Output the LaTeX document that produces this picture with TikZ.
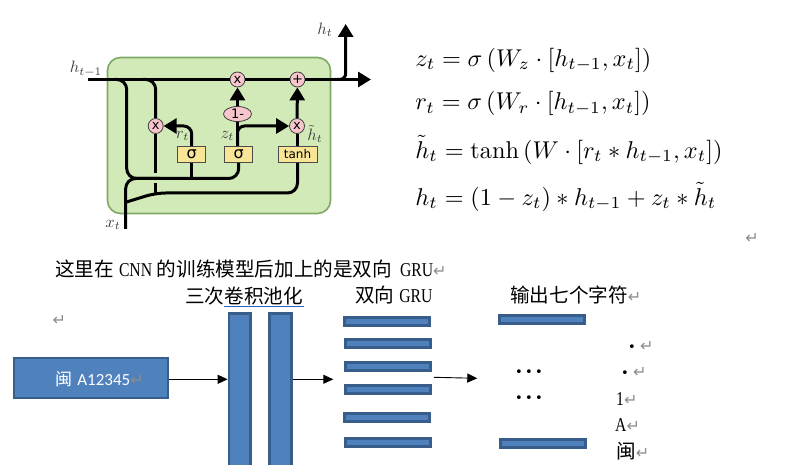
\documentclass[tikz,border=0pt]{standalone}
\usepackage{fontspec}
\usetikzlibrary{arrows.meta,shapes.geometric}
\newfontfamily\cjkf{Noto Sans CJK SC}
\newfontfamily\latinf{Liberation Serif}[FakeStretch=0.8]
\newfontfamily\labelf{DejaVu Sans}
\newfontfamily\boxf{Carlito}
\definecolor{cellgreen}{HTML}{D2EAB8}
\definecolor{celledge}{HTML}{7FA868}
\definecolor{gatepink}{HTML}{F6C6CC}
\definecolor{gateyellow}{HTML}{F8E596}
\definecolor{boxblue}{HTML}{4F81BD}
\definecolor{boxedge}{HTML}{385D8A}
\definecolor{markgray}{HTML}{8C8C8C}
\definecolor{linkblue}{HTML}{2E5FC4}
\newcommand{\retmark}{{\labelf\color{markgray}\fontsize{16}{16}\selectfont ↵}}
\tikzset{
  wire/.style={line width=3pt},
  wirearrow/.style={wire, -{Triangle[length=13pt,width=15pt]}},
  gate/.style={circle, draw=black!75, fill=gatepink, line width=0.8pt, minimum size=15pt, inner sep=0pt, font=\labelf\fontsize{13}{13}\selectfont},
  layerbox/.style={rectangle, draw=black!70, fill=gateyellow, line width=0.8pt, minimum height=16pt, inner sep=0pt, font=\labelf\fontsize{12}{12}\selectfont},
  bluebox/.style={rectangle, draw=boxedge, fill=boxblue, line width=2.6pt, inner sep=0pt},
  hbar/.style={bluebox, minimum width=85pt, minimum height=8pt},
  vbar/.style={bluebox, minimum width=21.5pt, minimum height=156pt, anchor=north},
  thinarrow/.style={line width=0.9pt, -{Triangle[length=10pt,width=9pt]}},
  cjk/.style={inner sep=0pt, font=\cjkf\fontsize{19.6}{19.6}\selectfont},
  eqn/.style={anchor=west, inner sep=0pt, scale=2.43, transform shape},
  cell label/.style={inner sep=0pt, text=black!75, scale=1.65, transform shape},
  dotrow/.style={inner sep=0pt, font=\labelf\fontsize{13}{13}\selectfont}
}
\begin{document}
\begin{tikzpicture}[x=1pt,y=-1pt]
\clip (0,0) rectangle (790,465);
\fill[white] (0,0) rectangle (790,465);

% gru cell
\node[draw=celledge, fill=cellgreen, line width=1.6pt, rounded corners=13pt, minimum width=223pt, minimum height=156pt, inner sep=0pt] (cell) at (219,135.5) {};

\node[gate] (mulz) at (237.5,79.5) {x};
\node[gate] (addh) at (297.5,79.5) {+};
\node[gate] (mulr) at (155.7,126) {x};
\node[gate] (mulh) at (297,126) {x};
\node[ellipse, draw=black!75, fill=gatepink, line width=0.8pt, minimum width=28pt, minimum height=15pt, inner sep=0pt, font=\labelf\fontsize{13}{13}\selectfont] (oneminus) at (237.5,114) {1-};
\node[layerbox, minimum width=28pt, font=\labelf\fontsize{16}{16}\selectfont] (sigr) at (191.7,154.5) {σ};
\node[layerbox, minimum width=28pt, font=\labelf\fontsize{16}{16}\selectfont] (sigz) at (238.7,154.5) {σ};
\node[layerbox, minimum width=39pt] (tanhb) at (297.5,154.5) {tanh};

\coordinate (hin) at (88,79.5);
\coordinate (hout) at (371,79.5);
\coordinate (htop) at (345.7,24);
\coordinate (split) at (335,79.5);
\coordinate (tapa) at (115,79.5);
\coordinate (tapb) at (143,79.5);
\coordinate (xin) at (125.7,229);
\coordinate (botl) at (126.7,178.5);
\coordinate (botm) at (160,178.5);
\coordinate (xbr) at (126.5,202);
\coordinate (botn) at (155.7,193);
\coordinate (gapa) at (155.7,173);
\coordinate (gapb) at (155.7,183);

\draw[wire] (hin) -- (mulz);
\draw[wire] (mulz) -- (addh);
\draw[wirearrow] (addh) -- (hout);
\draw[wirearrow, rounded corners=6pt] (split) -| (htop);
\draw[wire, rounded corners=10pt] (tapa) -| (botl) -| (sigz.south);
\draw[wire, rounded corners=10pt] (tapb) -| (mulr.north);
\draw[wire] (mulr) -- (gapa);
\draw[wire] (gapb) -- (botn);
\draw[wire, rounded corners=10pt] (xin) |- (botm);
\draw[wire, rounded corners=10pt] (xbr) -- (botn) -| (tanhb.south);
\draw[wire] (sigr.south) -- (sigr.south |- botl);
\draw[wirearrow, rounded corners=8pt] (sigr.north) |- (mulr.east);
\draw[wire] (sigz.north -| oneminus) -- (oneminus);
\draw[wirearrow, rounded corners=7pt] (sigz.north -| oneminus) |- (mulh.west);
\draw[wirearrow] (oneminus) -- (mulz);
\draw[wire] (tanhb.north -| mulh) -- (mulh);
\draw[wirearrow] (mulh) -- (addh);

\node[cell label] (lhprev) at (86,69) {$h_{t-1}$};
\node[cell label] (lhout) at (325,30) {$h_t$};
\node[cell label] (lxin) at (113,225) {$x_t$};
\node[cell label] (lr) at (182.5,136) {$r_t$};
\node[cell label] (lz) at (227.5,136) {$z_t$};
\node[cell label] (lh) at (315,134) {$\tilde{h}_t$};

% equations
\node[eqn] (eqz) at (415,60) {$z_t=\sigma\left(W_z\cdot[h_{t-1},x_t]\right)$};
\node[eqn] (eqr) at (415,103.5) {$r_t=\sigma\left(W_r\cdot[h_{t-1},x_t]\right)$};
\node[eqn] (eqh) at (415,150) {$\tilde{h}_t=\tanh\left(W\cdot[r_t*h_{t-1},x_t]\right)$};
\node[eqn] (eqo) at (415,197) {$h_t=(1-z_t)*h_{t-1}+z_t*\tilde{h}_t$};
\node (reta) at (752,238) {\retmark};

% text lines
\node[cjk, anchor=west] (intro) at (55,269) {这里在\kern5pt{\latinf CNN}\kern4.7pt的训练模型后加上的是双向\kern8pt{\latinf GRU}\retmark};
\node[cjk, anchor=west] (conv) at (185,296) {三次卷积池化};
\draw[linkblue, line width=0.9pt] (224,306) -- (304,306);
\node[cjk, anchor=west] (bigru) at (355,295) {双向\kern5pt{\latinf GRU}};
\node[cjk, anchor=west] (outseven) at (510,295) {输出七个字符\retmark};
\node (retb) at (59.3,320.7) {\retmark};

% network
\node[bluebox, minimum width=154pt, minimum height=40pt] (plate) at (91,378) {};
\node[anchor=west, inner sep=0pt, text=white, font=\fontsize{17}{17}\selectfont] (platetext) at (55,379) {{\cjkf 闽} {\boxf A12345}\retmark};
\node[vbar] (conva) at (239.7,312.3) {};
\node[vbar] (convb) at (280.5,312.3) {};
\foreach \name/\px/\py in {ga/386.8/321.3, gb/388/343.5, gc/388/366.3, gd/388/389.3, ge/386.8/417.3, gf/388/442.6, oa/542/319.3, ob/543/443.6}
  \node[hbar] (\name) at (\px,\py) {};

\coordinate (arrowb) at (333.3,379.3);
\coordinate (arrowcs) at (434,377.3);
\coordinate (arrowce) at (477.3,378.3);
\draw[thinarrow] (plate.east |- 0,379.3) -- (conva.west |- 0,379.3);
\draw[thinarrow] (convb.east |- 0,379.3) -- (arrowb);
\draw[thinarrow] (arrowcs) -- (arrowce);

% output chars
\node[dotrow] (dotsa) at (529,372.7) {•\kern2.3pt•\kern2.3pt•};
\node[dotrow] (dotsb) at (529,398.7) {•\kern2.3pt•\kern2.3pt•};
\node[dotrow, anchor=west] (chara) at (628,346.7) {• \retmark};
\node[dotrow, anchor=west] (charb) at (621,372.7) {• \retmark};
\node[cjk, anchor=west] (charc) at (616,398.7) {{\latinf 1}\retmark};
\node[cjk, anchor=west] (chard) at (615,425) {{\latinf A}\retmark};
\node[cjk, anchor=west] (chare) at (616,451) {闽\retmark};
\end{tikzpicture}
\end{document}
